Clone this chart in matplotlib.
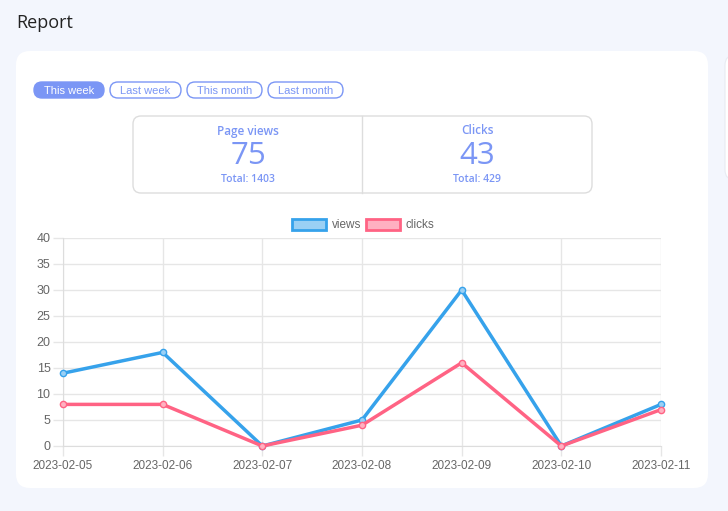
import numpy as np
import matplotlib
matplotlib.use("Agg")
import matplotlib.pyplot as plt
from matplotlib.patches import FancyBboxPatch, Rectangle

# data
dates = ['2023-02-05', '2023-02-06', '2023-02-07', '2023-02-08',
         '2023-02-09', '2023-02-10', '2023-02-11']
views = [14, 18, 0, 5, 30, 0, 8]
clicks = [8, 8, 0, 4, 16, 0, 7]
buttons = ['This week', 'Last week', 'This month', 'Last month']
stat_titles = ['Page views', 'Clicks']
stat_values = ['75', '43']
stat_totals = ['Total: 1403', 'Total: 429']

W, H = 728, 511
bg = '#f3f6fd'
accent = '#7b96f5'
c_views = '#36a2eb'
c_clicks = '#ff6384'

fig = plt.figure(figsize=(W / 100, H / 100), dpi=100, facecolor=bg)

# page layer in pixel coords
page = fig.add_axes([0, 0, 1, 1])
page.set_xlim(0, W)
page.set_ylim(H, 0)
page.axis('off')

page.text(16, 23, 'Report', fontsize=13, family='Open Sans', color='#222222',
          va='center', ha='left')

# main card and the edge of the next one
page.add_patch(FancyBboxPatch((16, 51), 692, 437, boxstyle='round,pad=0,rounding_size=14',
                              fc='white', ec='none'))
page.add_patch(FancyBboxPatch((725, 55), 30, 125, boxstyle='round,pad=0,rounding_size=10',
                              fc='white', ec='#e8ebf2', lw=0.8))

# period buttons
bx = [34, 110, 187, 268]
bw = [70, 71, 75, 75]
for i, b in enumerate(buttons):
    filled = i == 0
    page.add_patch(FancyBboxPatch((bx[i], 82), bw[i], 16, boxstyle='round,pad=0,rounding_size=8',
                                  fc=accent if filled else 'white', ec=accent, lw=1))
    page.text(bx[i] + bw[i] / 2, 90.5, b, fontsize=8, family='Liberation Sans',
              color='white' if filled else accent, ha='center', va='center')

# stats box
page.add_patch(FancyBboxPatch((133, 116), 459, 77, boxstyle='round,pad=0,rounding_size=8',
                              fc='white', ec='#dddddd', lw=1))
page.plot([362, 362], [116, 193], color='#dddddd', lw=1)
for i in range(2):
    cx = 248 + i * 229
    page.text(cx, 131, stat_titles[i], fontsize=8.5, fontweight='semibold', family='Open Sans',
              color=accent, ha='center', va='center')
    page.text(cx, 156, stat_values[i], fontsize=22.5, family='Open Sans',
              color=accent, ha='center', va='center')
    page.text(cx, 180, stat_totals[i], fontsize=7.5, fontweight='semibold', family='Open Sans',
              color=accent, ha='center', va='center')

# legend
legend_items = [(292, 'views', c_views), (366, 'clicks', c_clicks)]
for x0, lab, col in legend_items:
    page.add_patch(Rectangle((x0, 219), 34, 11, fc=col, alpha=0.5, ec='none'))
    page.add_patch(Rectangle((x0, 219), 34, 11, fc='none', ec=col, lw=2))
    page.text(x0 + 40, 225, lab, fontsize=8.5, family='Liberation Sans', color='#666666',
              ha='left', va='center')

# chart
left, right, top, bottom = 63, 661, 238, 446
ax = fig.add_axes([left / W, 1 - bottom / H, (right - left) / W, (bottom - top) / H])
ax.set_facecolor('none')
x = np.arange(len(dates))
ax.plot(x, views, color=c_views, lw=2.5, marker='o', ms=4.5,
        mfc='#9ad0f5', mec=c_views, mew=1, clip_on=False, zorder=3)
ax.plot(x, clicks, color=c_clicks, lw=2.5, marker='o', ms=4.5,
        mfc='#ffb1c1', mec=c_clicks, mew=1, clip_on=False, zorder=3)
ax.set_xlim(0, len(dates) - 1)
ax.set_ylim(0, 40)
ax.set_yticks(range(0, 41, 5))
ax.set_xticks(x)
ax.set_xticklabels(dates)
ax.grid(True, color='#e6e6e6', lw=1)
ax.set_axisbelow(True)
for s in ['top', 'right']:
    ax.spines[s].set_visible(False)
for s in ['left', 'bottom']:
    ax.spines[s].set_color('#dddddd')
ax.tick_params(colors='#e6e6e6', labelcolor='#666666', length=7, width=1, labelsize=8.5)
ax.tick_params(axis='y', labelsize=9, pad=2)
ax.tick_params(axis='x', pad=3)
for lab in ax.get_xticklabels() + ax.get_yticklabels():
    lab.set_family('Liberation Sans')

fig.savefig('out.png', dpi=100, facecolor=bg)
